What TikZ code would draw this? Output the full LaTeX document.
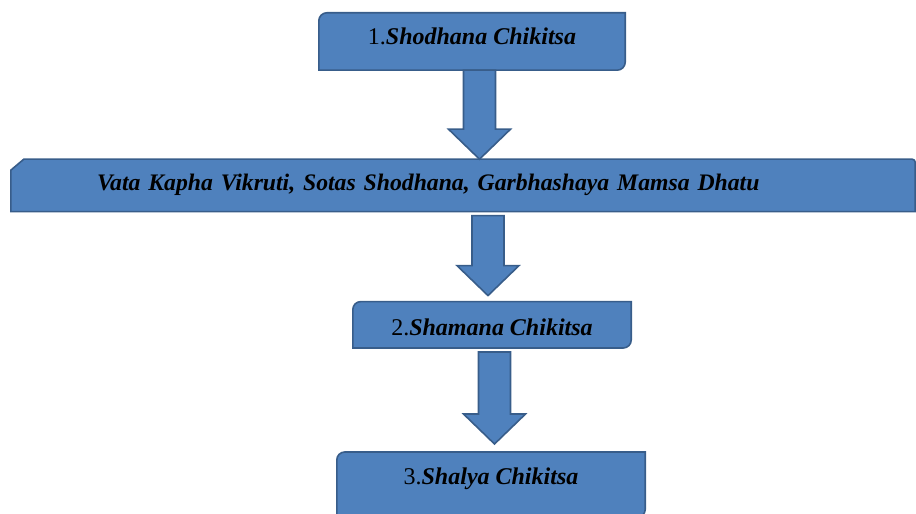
\documentclass[tikz,border=0pt]{standalone}
\usepackage{fontspec}
\setmainfont{Liberation Serif}
\usepackage{tikz}
\usetikzlibrary{backgrounds}
\usetikzlibrary{calc}
\usetikzlibrary{positioning}

\definecolor{boxfill}{HTML}{4F81BD}
\definecolor{boxedge}{HTML}{385D8A}

% outline with rounded top left and bottom right corners
\newcommand{\cornerbox}[2]{%
  \draw[boxline] (#1.south west) -- ($(#1.north west)+(0,-#2)$)
    arc[start angle=180, end angle=90, radius=#2] -- (#1.north east)
    -- ($(#1.south east)+(0,#2)$)
    arc[start angle=0, end angle=-90, radius=#2] -- cycle;}

% block arrow pointing down: from, to, x offset, top gap, tip gap
\newcommand{\blockdown}[5]{%
  \draw[blockarrow] let \p1 = ($(#1.south)+(#3,-#4)$), \p2 = ($(#2.north)+(0,#5)$) in
    (\x1-16pt,\y1) -- (\x1+16pt,\y1) -- (\x1+16pt,\y2+30pt) -- (\x1+31pt,\y2+30pt)
    -- (\x1,\y2) -- (\x1-31pt,\y2+30pt) -- (\x1-16pt,\y2+30pt) -- cycle;}

\begin{document}
\begin{tikzpicture}
  [
    x = 1pt, y = 1pt,
    stepbox/.style = {inner sep = 0pt, align = center,
                  font = \fontsize{24}{28}\selectfont},
    boxline/.style = {draw = boxedge, fill = boxfill, line width = 1.6pt},
    blockarrow/.style = {draw = boxedge, fill = boxfill, line width = 1.6pt,
                  line join = miter},
  ]
  \useasboundingbox (0,0) rectangle (916,514);

  \node[stepbox, minimum width = 306pt, minimum height = 57pt,
        text height = 16pt, text depth = 9pt]
    at (472,472.5) (shodhana) {1.\textbf{\textit{Shodhana Chikitsa}}};

  \node[stepbox, minimum width = 904pt, text width = 904pt, align = left,
        minimum height = 52pt, text height = 16pt, text depth = 6pt,
        font = \fontsize{23.7}{28}\selectfont]
    [below = 89pt of shodhana, xshift = -9pt] (vikruti)
    {\hspace*{86pt}\textbf{\textit{Vata Kapha Vikruti, Sotas Shodhana, Garbhashaya Mamsa Dhatu}}};

  \node[stepbox, minimum width = 278pt, minimum height = 46pt,
        text height = 24pt, text depth = 2pt]
    [below = 90pt of vikruti, xshift = 29pt] (shamana)
    {2.\textbf{\textit{Shamana Chikitsa}}};

  \node[stepbox, minimum width = 308pt, minimum height = 65pt,
        text height = 16pt, text depth = 17pt]
    [below = 104pt of shamana, xshift = -1pt] (shalya)
    {3.\textbf{\textit{Shalya Chikitsa}}};

  \begin{scope}[on background layer]
    \cornerbox{shodhana}{8pt}
    \draw[boxline] (vikruti.south west) -- ($(vikruti.north west)+(0,-11)$)
      -- ($(vikruti.north west)+(13,0)$) -- ($(vikruti.north east)+(-3,0)$)
      arc[start angle=90, end angle=0, radius=3pt] -- (vikruti.south east) -- cycle;
    \cornerbox{shamana}{8pt}
    \cornerbox{shalya}{8pt}
  \end{scope}

  \blockdown{shodhana}{vikruti}{7.5}{0}{0}
  \blockdown{vikruti}{shamana}{25}{4}{6}
  \blockdown{shamana}{shalya}{2.5}{4}{8}

\end{tikzpicture}
\end{document}
